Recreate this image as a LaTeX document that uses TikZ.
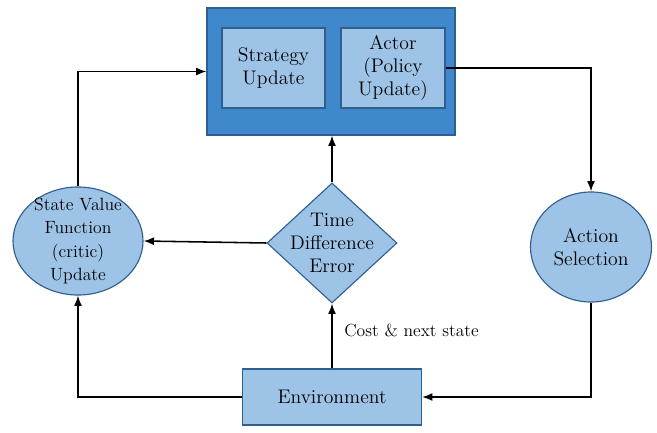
\documentclass[tikz,border=0pt]{standalone}
\usetikzlibrary{shapes.geometric,arrows.meta}
\definecolor{lightfill}{HTML}{9DC3E6}
\definecolor{darkfill}{HTML}{3F88CB}
\definecolor{edgeblue}{HTML}{2F5F8F}
\begin{document}
\begin{tikzpicture}[x=0.025cm,y=-0.025cm,
  box/.style={draw=edgeblue,fill=lightfill,line width=0.8pt,inner sep=0pt},
  txt/.style={font=\fontsize{14}{16.3}\selectfont,align=center,inner sep=0pt},
  link/.style={-{Latex[length=2.6mm,width=2mm]},line width=1.1pt}]
  \useasboundingbox (0,0) rectangle (657,433);
  \path (331,71.5) node[draw=edgeblue,fill=darkfill,line width=0.8pt,minimum width=6.2cm,minimum height=3.175cm] (update) {}
  (273.5,68) node[box,minimum width=2.575cm,minimum height=2cm] (strategy) {}
  (393,68) node[box,minimum width=2.6cm,minimum height=2cm] (actor) {}
  (78,241) node[box,ellipse,minimum width=3.25cm,minimum height=2.7cm] (critic) {}
  (332,243) node[box,diamond,minimum width=3.25cm,minimum height=3cm] (tde) {}
  (591,247) node[box,ellipse,minimum width=3.025cm,minimum height=2.75cm] (action) {}
  (332,397) node[box,minimum width=4.475cm,minimum height=1.4cm] (env) {};
  \node[txt] (strategytext) at (strategy) {Strategy\\Update};
  \node[txt] (actortext) at (actor) {Actor\\(Policy\\Update)};
  \node[txt,font=\fontsize{12.6}{16.4}\selectfont] (critictext) at (critic) {State Value\\Function\\(critic)\\Update};
  \node[txt] (tdetext) at (tde) {Time\\Difference\\Error};
  \node[txt] (actiontext) at (action) {Action\\Selection};
  \node[txt] (envtext) at (env) {Environment};
  \node[txt,font=\fontsize{12.5}{15}\selectfont,anchor=west] (costtext) at (344,330) {Cost \& next state};
  \draw[link] (critic.north) |- (update.west);
  \draw[link] (actor.east) -| (action.north);
  \draw[link] (action.south) |- (env.east);
  \draw[link] (env.west) -| (critic.south);
  \draw[link] (env.north) -- (tde.south);
  \draw[link] (tde.north) -- (tde.north |- update.south);
  \draw[link] (tde.west) -- (critic.east);
\end{tikzpicture}
\end{document}
